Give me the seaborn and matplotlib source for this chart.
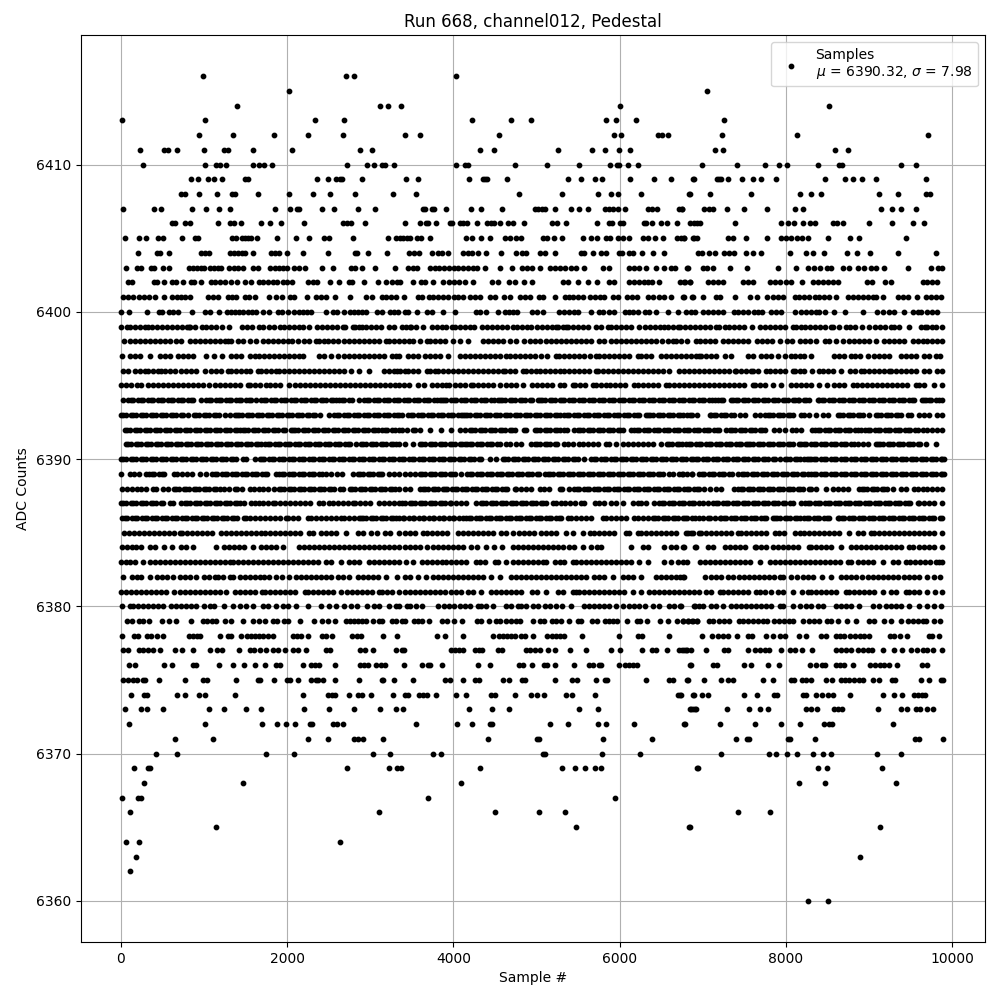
import pandas as pd
import matplotlib
matplotlib.use("Agg")
import matplotlib.pyplot as plt
import seaborn as sns

# sample numbers, one list per ADC level
r6416 = [987, 2710, 2806, 4035]
r6415 = [2025, 7053]
r6414 = [1397, 3116, 3212, 3369, 6001, 8520]
r6413 = [15, 1010, 2337, 2686, 4225, 4693, 4933, 5833, 5953, 6193, 7258]
r6412 = [942, 1351, 1844, 2253, 2674, 3421, 3601, 4549, 5929, 6017, 6460, 6505, 6577, 7234, 8133, 9712]
r6411 = [232, 521, 569, 677, 1002, 1243, 1291, 1591, 2061, 2879, 3023, 4323, 4492, 5262, 5671, 5827, 5995, 6128, 7150, 7246, 8594, 8750]
r6410 = [268, 1013, 1146, 1194, 1267, 1591, 1663, 1724, 1820, 2722, 2962, 3047, 3143, 3180, 3288, 4035, 4141, 4177, 4741, 5125, 5509, 5881, 5965, 5989, 6097, 6217, 6993, 7413, 7749, 7917, 8013, 8385, 8637, 8673, 9381, 9561]
r6409 = [846, 930, 1050, 1122, 1218, 1495, 1531, 2362, 2494, 2590, 2638, 2662, 2903, 3433, 3577, 4189, 4357, 4381, 4405, 4645, 5377, 5533, 5701, 5785, 6121, 6409, 6613, 6889, 6897, 7173, 7197, 7221, 7305, 7473, 7605, 7701, 7881, 8469, 8709, 8805, 8913, 9081, 9693]
r6408 = [728, 768, 942, 1158, 1340, 1375, 1652, 2025, 2314, 2518, 2820, 3277, 3553, 4789, 5305, 5737, 5893, 5977, 6253, 6841, 6849, 7089, 7581, 8173, 8305, 8425, 9117, 9345, 9688, 9736]
r6407 = [27, 401, 485, 858, 1026, 1183, 1315, 1856, 2037, 2121, 2145, 2422, 2566, 2855, 3059, 3637, 3661, 3745, 3769, 3913, 4213, 4333, 4585, 4981, 5017, 5065, 5101, 5221, 5413, 5509, 5617, 5821, 5869, 5917, 5977, 6061, 6337, 6385, 6445, 6709, 6745, 6753, 7017, 7077, 7125, 7293, 7497, 7773, 8109, 8205, 9141, 9273, 9381, 9561]
r6406 = [617, 653, 773, 834, 1170, 1315, 1363, 1447, 1688, 1796, 1929, 2205, 2674, 2722, 2770, 2939, 3421, 3601, 3673, 3697, 3793, 3961, 3985, 4081, 4117, 4165, 4285, 4405, 4453, 4489, 4561, 4657, 4717, 4849, 5185, 5245, 5353, 5725, 5869, 5905, 6001, 6037, 6289, 6313, 6385, 6493, 6565, 6685, 6853, 6901, 6933, 6969, 7389, 7941, 8025, 8097, 8205, 8289, 8349, 8565, 8613, 8685, 8997, 9273, 9525, 9657]
r6405 = [51, 219, 303, 447, 507, 735, 893, 929, 1339, 1387, 1459, 1495, 1531, 1567, 1635, 1875, 2103, 2259, 2439, 2499, 2787, 3219, 3315, 3357, 3397, 3437, 3477, 3565, 3605, 3721, 4153, 4225, 4333, 4441, 4621, 4681, 4753, 4813, 5077, 5125, 5209, 5305, 5557, 5653, 5725, 5833, 5881, 5977, 6037, 6109, 6277, 6337, 6421, 6517, 6685, 6737, 6781, 6901, 6937, 6773, 6885, 7305, 7365, 7521, 7773, 7941, 8005, 8061, 8133, 8193, 8265, 8505, 8769, 8877, 9441]
r6404 = [207, 435, 475, 579, 963, 1011, 1059, 1311, 1359, 1407, 1455, 1491, 1587, 1803, 1851, 1907, 1995, 2187, 2487, 2811, 2835, 2967, 3207, 3469, 3529, 3589, 3745, 3817, 3865, 3937, 4117, 4177, 4225, 4297, 4393, 4573, 4753, 4825, 4873, 5041, 5101, 5221, 5533, 5569, 5677, 5773, 5833, 5989, 6025, 6109, 6157, 6265, 6397, 6529, 6949, 6993, 7077, 7149, 7257, 7317, 7377, 7521, 7605, 7701, 8049, 8241, 8325, 8457, 8733, 8853, 9009, 9345, 9813]
r6403 = [63, 195, 235, 363, 403, 507, 579, 819, 867, 915, 963, 999, 1071, 1119, 1167, 1203, 1299, 1359, 1407, 1467, 1587, 1647, 1791, 1851, 1899, 1947, 1995, 2079, 2139, 2211, 2415, 2547, 2763, 2811, 2895, 3051, 3303, 3457, 3517, 3565, 3721, 3781, 3829, 3889, 3949, 4009, 4057, 4117, 4177, 4237, 4285, 4381, 4561, 4705, 4825, 4885, 4945, 5037, 5161, 5221, 5281, 5341, 5413, 5473, 5569, 5797, 5869, 6109, 6169, 6229, 6313, 6433, 6529, 6613, 6661, 6817, 6825, 7005, 7053, 7125, 7333, 7533, 7905, 8121, 8265, 8345, 8409, 8493, 8541, 8685, 8765, 8865, 8937, 9021, 9081, 9177, 9465, 9753, 9837, 9885]
r6402 = [87, 127, 399, 435, 519, 615, 663, 747, 843, 879, 963, 1083, 1131, 1191, 1251, 1323, 1395, 1491, 1563, 1659, 1707, 1767, 1827, 1875, 1947, 1995, 2055, 2247, 2307, 2355, 2511, 2619, 2739, 2775, 2919, 3087, 3187, 3267, 3327, 3357, 3517, 3613, 3661, 3757, 3877, 3949, 4009, 4069, 4141, 4237, 4465, 4537, 4669, 4741, 4849, 4945, 5317, 5377, 5497, 5617, 5725, 5869, 5929, 6109, 6169, 6229, 6289, 6337, 6385, 6469, 6781, 6853, 6725, 6785, 6845, 7065, 7125, 7185, 7245, 7485, 7545, 7605, 7813, 7873, 7933, 8005, 8065, 8193, 8325, 8385, 8445, 8505, 8565, 8625, 8973, 9033, 9193, 9265, 9645, 9705, 9765, 9825]
r6401 = [27, 87, 147, 219, 279, 339, 411, 519, 615, 675, 723, 771, 831, 1047, 1107, 1167, 1287, 1335, 1383, 1491, 1539, 1611, 1779, 1863, 1935, 2031, 2079, 2235, 2343, 2403, 2463, 2571, 2751, 2943, 3015, 3135, 3195, 3255, 3315, 3409, 3577, 3625, 3709, 3757, 3817, 3877, 3937, 4009, 4057, 4117, 4201, 4261, 4321, 4441, 4501, 4609, 4681, 4801, 4861, 4921, 5029, 5077, 5221, 5341, 5389, 5437, 5497, 5557, 5641, 5701, 5761, 5809, 5917, 5977, 6085, 6145, 6205, 6337, 6397, 6469, 6529, 6613, 6769, 6877, 6765, 6885, 7005, 7165, 7205, 7385, 7565, 7653, 7773, 7845, 7905, 7965, 8105, 8157, 8225, 8285, 8357, 8405, 8465, 8525, 8605, 8745, 8805, 8865, 8925, 8985, 9045, 9085, 9165, 9345, 9405, 9465, 9573, 9685, 9745, 9805, 9865]
r6400 = [3, 99, 315, 459, 495, 579, 627, 687, 855, 1011, 1071, 1179, 1275, 1323, 1371, 1419, 1467, 1527, 1575, 1623, 1707, 1779, 1887, 1935, 2007, 2079, 2139, 2187, 2235, 2283, 2463, 2547, 2595, 2679, 2751, 2799, 2847, 2895, 2943, 3075, 3147, 3243, 3291, 3339, 3417, 3457, 3565, 3685, 3745, 3877, 4021, 4273, 4321, 4393, 4537, 4621, 4669, 4717, 4765, 4945, 5005, 5077, 5269, 5329, 5389, 5449, 5497, 5653, 5749, 5797, 5869, 5929, 6061, 6109, 6157, 6217, 6301, 6349, 6437, 6577, 6697, 6805, 6865, 6913, 7005, 7065, 7125, 7185, 7245, 7377, 7425, 7485, 7545, 7613, 7665, 7717, 7825, 7885, 7945, 8105, 8185, 8245, 8305, 8365, 8405, 8477, 8577, 8713, 8925, 9093, 9165, 9237, 9297, 9417, 9525, 9585, 9625, 9705, 9765, 9825]
r6399 = [5, 67, 107, 167, 227, 287, 327, 379, 439, 499, 559, 619, 679, 739, 799, 819, 835, 895, 979, 1019, 1079, 1139, 1219, 1299, 1459, 1519, 1579, 1659, 1707, 1779, 1839, 1915, 1967, 2027, 2087, 2147, 2195, 2259, 2355, 2415, 2475, 2535, 2595, 2667, 2700, 2787, 2819, 2867, 2899, 2947, 3007, 3067, 3127, 3227, 3287, 3377, 3429, 3477, 3489, 3549, 3637, 3737, 3797, 3857, 3917, 3989, 4017, 4077, 4137, 4197, 4245, 4349, 4409, 4469, 4529, 4589, 4649, 4717, 4765, 4825, 4885, 4937, 5005, 5065, 5125, 5185, 5237, 5261, 5321, 5357, 5377, 5437, 5497, 5557, 5617, 5717, 5777, 5857, 5897, 5957, 6017, 6077, 6137, 6229, 6309, 6365, 6425, 6485, 6537, 6577, 6637, 6697, 6725, 6785, 6845, 6905, 6965, 7025, 7085, 7165, 7197, 7265, 7317, 7377, 7437, 7497, 7597, 7685, 7745, 7805, 7865, 7925, 7985, 8085, 8117, 8177, 8237, 8297, 8357, 8417, 8477, 8545, 8573, 8645, 8725, 8773, 8833, 8917, 9005, 9077, 9137, 9197, 9265, 9305, 9365, 9477, 9625, 9677, 9705, 9765, 9813, 9885]
r6398 = [35, 107, 167, 227, 287, 347, 407, 467, 527, 587, 659, 727, 827, 887, 947, 1007, 1067, 1127, 1187, 1247, 1287, 1323, 1407, 1467, 1547, 1627, 1715, 1767, 1827, 1887, 1947, 2007, 2059, 2127, 2207, 2267, 2347, 2387, 2447, 2487, 2547, 2607, 2687, 2739, 2807, 2859, 2919, 2979, 3039, 3099, 3187, 3227, 3287, 3347, 3407, 3467, 3517, 3597, 3677, 3717, 3777, 3837, 3897, 3997, 4077, 4177, 4357, 4417, 4477, 4537, 4597, 4677, 4749, 4845, 4917, 4977, 5037, 5109, 5177, 5237, 5297, 5357, 5417, 5477, 5537, 5597, 5657, 5757, 5817, 5897, 5957, 6017, 6077, 6137, 6197, 6257, 6317, 6377, 6437, 6505, 6577, 6637, 6677, 6737, 6817, 6917, 6965, 7025, 7085, 7145, 7245, 7305, 7365, 7425, 7485, 7545, 7653, 7717, 7777, 7837, 7933, 8013, 8073, 8173, 8237, 8293, 8365, 8469, 8525, 8605, 8685, 8765, 8825, 8885, 8945, 9005, 9085, 9185, 9245, 9305, 9365, 9425, 9525, 9585, 9645, 9705, 9765, 9825, 9885]
r6397 = [15, 107, 167, 227, 351, 467, 527, 587, 687, 747, 807, 867, 1023, 1119, 1215, 1327, 1387, 1447, 1547, 1607, 1659, 1719, 1779, 1839, 1899, 1959, 2019, 2079, 2139, 2187, 2387, 2447, 2527, 2607, 2687, 2747, 2807, 2867, 2927, 2987, 3047, 3107, 3167, 3267, 3307, 3347, 3457, 3517, 3577, 3657, 3717, 3777, 3837, 3937, 4077, 4137, 4197, 4257, 4317, 4377, 4437, 4497, 4557, 4629, 4677, 4737, 4797, 4857, 4917, 4977, 5057, 5125, 5229, 5269, 5329, 5389, 5449, 5509, 5577, 5645, 5717, 5757, 5817, 5877, 5937, 5997, 6057, 6117, 6217, 6257, 6317, 6377, 6497, 6557, 6617, 6677, 6737, 6797, 6857, 6917, 6957, 6985, 7045, 7105, 7165, 7265, 7345, 7545, 7605, 7705, 7765, 7825, 7905, 7985, 8065, 8105, 8165, 8225, 8305, 8585, 8645, 8705, 8785, 8837, 8897, 8985, 9065, 9125, 9185, 9245, 9385, 9445, 9505, 9565, 9665, 9725, 9805, 9853]
r6396 = [27, 87, 167, 227, 287, 327, 387, 447, 487, 527, 587, 647, 727, 787, 847, 907, 1007, 1087, 1147, 1207, 1287, 1327, 1387, 1447, 1507, 1547, 1647, 1687, 1747, 1807, 1867, 1907, 1967, 2027, 2087, 2147, 2207, 2267, 2327, 2387, 2447, 2507, 2567, 2627, 2687, 2767, 2867, 2987, 3167, 3227, 3287, 3327, 3357, 3417, 3457, 3517, 3577, 3677, 3717, 3777, 3817, 3877, 3937, 3997, 4057, 4117, 4177, 4237, 4297, 4357, 4417, 4477, 4537, 4597, 4617, 4677, 4737, 4837, 4877, 4937, 4997, 5037, 5097, 5157, 5217, 5277, 5337, 5397, 5457, 5517, 5577, 5637, 5717, 5737, 5805, 5857, 5917, 5977, 6037, 6097, 6157, 6217, 6277, 6337, 6397, 6457, 6517, 6597, 6717, 6777, 6837, 6897, 6957, 7017, 7077, 7137, 7197, 7257, 7317, 7385, 7405, 7465, 7525, 7585, 7605, 7665, 7765, 7805, 7865, 7925, 7985, 8085, 8105, 8165, 8225, 8313, 8397, 8445, 8505, 8565, 8665, 8773, 8833, 8905, 8945, 9005, 9065, 9125, 9185, 9245, 9265, 9325, 9385, 9445, 9505, 9565, 9665, 9725, 9825, 9885]
r6395 = [5, 65, 125, 195, 243, 327, 387, 447, 507, 567, 627, 687, 747, 807, 867, 927, 987, 1059, 1127, 1187, 1247, 1307, 1367, 1427, 1527, 1555, 1615, 1675, 1747, 1795, 1855, 1915, 2027, 2099, 2159, 2219, 2279, 2339, 2399, 2459, 2519, 2579, 2639, 2699, 2759, 2819, 2879, 2939, 2999, 3059, 3119, 3179, 3239, 3299, 3347, 3407, 3467, 3577, 3645, 3737, 3797, 3857, 3917, 3949, 4017, 4077, 4137, 4217, 4237, 4297, 4357, 4417, 4477, 4557, 4629, 4689, 4749, 4837, 4949, 5009, 5069, 5129, 5189, 5277, 5337, 5437, 5469, 5529, 5589, 5677, 5717, 5777, 5837, 5885, 5945, 6005, 6065, 6177, 6217, 6277, 6337, 6397, 6457, 6557, 6597, 6657, 6717, 6777, 6837, 6897, 6957, 7017, 7077, 7137, 7197, 7257, 7317, 7377, 7437, 7497, 7605, 7625, 7685, 7745, 7845, 7945, 8065, 8125, 8185, 8245, 8305, 8405, 8493, 8585, 8645, 8705, 8805, 8853, 8913, 8973, 9033, 9093, 9153, 9213, 9273, 9333, 9393, 9453, 9565, 9605, 9665, 9785, 9885]
r6394 = [19, 87, 147, 207, 267, 327, 387, 447, 507, 567, 627, 687, 747, 807, 867, 967, 1027, 1087, 1147, 1207, 1267, 1327, 1387, 1447, 1507, 1567, 1627, 1687, 1747, 1807, 1867, 1927, 1987, 2047, 2107, 2167, 2227, 2287, 2347, 2407, 2467, 2527, 2587, 2627, 2687, 2747, 2867, 2927, 2987, 3047, 3107, 3167, 3227, 3287, 3347, 3407, 3467, 3527, 3587, 3647, 3707, 3767, 3837, 3857, 3917, 3977, 4037, 4097, 4157, 4217, 4277, 4337, 4397, 4457, 4537, 4557, 4617, 4677, 4737, 4797, 4857, 4917, 5017, 5037, 5097, 5157, 5217, 5277, 5337, 5397, 5457, 5517, 5577, 5637, 5697, 5757, 5817, 5877, 5937, 5997, 6057, 6117, 6177, 6237, 6297, 6357, 6417, 6477, 6537, 6597, 6657, 6717, 6777, 6837, 6897, 6957, 7017, 7077, 7145, 7185, 7245, 7345, 7365, 7425, 7485, 7545, 7605, 7665, 7725, 7785, 7845, 7905, 7965, 8025, 8085, 8145, 8157, 8217, 8277, 8385, 8405, 8465, 8525, 8585, 8645, 8705, 8765, 8825, 8885, 8945, 9005, 9065, 9125, 9185, 9245, 9305, 9365, 9425, 9485, 9545, 9665, 9693, 9753, 9813, 9885,
         117, 237, 357, 477, 597, 717, 837, 1057, 1177, 1297, 1417, 1537, 1717, 1837, 1957, 2077, 2197, 2317, 2437, 2557, 2657, 2777, 2957, 3077, 3197, 3317, 3437, 3557, 3677, 3797, 3887, 4007, 4127, 4247, 4367, 4487, 4587, 4707, 4827, 4947, 5067, 5187, 5307, 5427, 5547, 5667, 5787, 5907, 6027, 6147, 6267, 6387, 6507, 6627, 6747, 6867, 6987, 7107, 7215, 7395, 7515, 7635, 7755, 7875, 7995, 8115, 8247, 8435, 8555, 8675, 8795, 8915, 9035, 9155, 9275, 9395, 9515, 9635, 9723, 9843]
r6393 = [0, 60, 120, 180, 240, 300, 360, 420, 480, 540, 600, 660, 720, 807, 875, 935, 995, 1055, 1115, 1175, 1247, 1307, 1367, 1395, 1455, 1515, 1575, 1635, 1695, 1755, 1815, 1875, 1935, 1995, 2055, 2115, 2175, 2235, 2307, 2339, 2399, 2507, 2567, 2627, 2687, 2747, 2807, 2867, 2927, 2987, 3047, 3107, 3167, 3227, 3287, 3347, 3377, 3457, 3517, 3577, 3637, 3697, 3757, 3817, 3877, 3937, 3997, 4057, 4117, 4137, 4197, 4257, 4317, 4377, 4437, 4497, 4557, 4617, 4677, 4737, 4797, 4857, 4917, 4977, 5037, 5097, 5157, 5217, 5277, 5337, 5397, 5457, 5517, 5577, 5637, 5697, 5757, 5817, 5877, 5937, 5997, 6057, 6117, 6177, 6237, 6317, 6337, 6397, 6457, 6517, 6577, 6637, 6697, 6757, 6817, 6877, 6937, 7085, 7105, 7165, 7225, 7285, 7345, 7445, 7513, 7625, 7685, 7745, 7785, 7845, 7905, 7965, 8025, 8085, 8185, 8225, 8285, 8365, 8445, 8505, 8625, 8685, 8745, 8805, 8865, 8925, 9005, 9085, 9145, 9205, 9265, 9325, 9385, 9505, 9605, 9665, 9725, 9825, 9885,
         30, 150, 270, 390, 510, 630, 750, 905, 1025, 1145, 1425, 1545, 1665, 1785, 1905, 2025, 2145, 2265, 2597, 2717, 2837, 2957, 3077, 3197, 3317, 3487, 3607, 3727, 3847, 3967, 4087, 4167, 4287, 4407, 4527, 4647, 4767, 4887, 5007, 5127, 5247, 5367, 5487, 5607, 5727, 5847, 5967, 6087, 6207, 6367, 6487, 6607, 6727, 6847, 7135, 7255, 7375, 7815, 7935, 8055, 8655, 8775, 8895, 9115, 9235, 9355, 9475]
r6392 = [47, 107, 167, 227, 287, 347, 407, 467, 527, 587, 647, 707, 767, 827, 887, 947, 1007, 1067, 1127, 1187, 1247, 1307, 1367, 1427, 1467, 1527, 1587, 1647, 1707, 1767, 1827, 1887, 1947, 2047, 2067, 2127, 2187, 2247, 2307, 2367, 2427, 2487, 2547, 2607, 2667, 2727, 2787, 2847, 2907, 2967, 3027, 3087, 3147, 3207, 3267, 3347, 3377, 3437, 3517, 3537, 3597, 3717, 3845, 3977, 4077, 4137, 4197, 4257, 4317, 4377, 4437, 4497, 4557, 4617, 4677, 4737, 4845, 4877, 4977, 5037, 5097, 5157, 5217, 5277, 5337, 5457, 5497, 5557, 5617, 5677, 5737, 5797, 5857, 5917, 5977, 6037, 6137, 6177, 6237, 6297, 6357, 6417, 6477, 6537, 6597, 6657, 6717, 6777, 6837, 6897, 6957, 7017, 7077, 7137, 7197, 7285, 7325, 7385, 7445, 7505, 7565, 7625, 7685, 7745, 7853, 7917, 7985, 8077, 8125, 8185, 8317, 8357, 8417, 8477, 8537, 8597, 8657, 8717, 8777, 8837, 8905, 8957, 9017, 9077, 9137, 9197, 9257, 9317, 9377, 9437, 9497, 9557, 9645, 9705, 9765, 9825, 9885,
         77, 197, 317, 437, 557, 677, 797, 917, 1037, 1157, 1277, 1397, 1497, 1617, 1737, 1857, 1977, 2097, 2217, 2337, 2457, 2577, 2697, 2817, 2937, 3057, 3177, 3297, 4227, 4347, 4467, 4587, 4707, 5007, 5127, 5247, 5367, 5527, 5647, 5767, 5887, 6007, 6207, 6327, 6447, 6567, 6687, 6807, 6927, 7047, 7167, 7355, 7475, 7595, 7715, 8387, 8507, 8627, 8747, 8867, 8987, 9107, 9227, 9347, 9467, 9587]
r6391 = [59, 119, 179, 239, 299, 359, 419, 479, 539, 599, 659, 719, 779, 839, 899, 959, 1019, 1079, 1139, 1199, 1259, 1319, 1379, 1439, 1499, 1559, 1619, 1679, 1739, 1799, 1859, 1919, 1979, 2039, 2099, 2159, 2219, 2279, 2339, 2399, 2459, 2519, 2579, 2639, 2699, 2759, 2827, 2887, 2947, 3007, 3067, 3127, 3187, 3247, 3307, 3347, 3417, 3517, 3597, 3657, 3717, 3777, 3837, 3897, 3957, 4017, 4077, 4137, 4165, 4225, 4285, 4345, 4405, 4465, 4525, 4637, 4685, 4749, 4809, 4937, 4977, 5037, 5097, 5157, 5217, 5337, 5377, 5437, 5517, 5557, 5617, 5677, 5737, 5837, 5869, 5957, 6037, 6097, 6157, 6217, 6277, 6337, 6397, 6497, 6565, 6625, 6685, 6745, 6805, 6865, 6925, 6985, 7045, 7105, 7165, 7225, 7285, 7345, 7405, 7465, 7525, 7545, 7605, 7665, 7725, 7785, 7845, 7905, 7965, 8025, 8085, 8157, 8185, 8245, 8305, 8365, 8425, 8485, 8545, 8605, 8665, 8725, 8785, 8865, 8925, 8985, 9085, 9105, 9165, 9225, 9285, 9345, 9405, 9465, 9525, 9585, 9685, 9805,
         89, 209, 329, 449, 569, 689, 809, 929, 1049, 1169, 1289, 1409, 1529, 1649, 1769, 1889, 2009, 2129, 2249, 2369, 2489, 2609, 2729, 2917, 3037, 3157, 3277, 3627, 3747, 3867, 3987, 4107, 4195, 4315, 4435, 4555, 5007, 5127, 5247, 6595, 6715, 6835, 6955, 7075, 7195, 7315, 7435, 7575, 7695, 7815, 7935, 8055, 8215, 8335, 8455, 8575, 8695, 8815, 9135, 9255, 9375, 9495, 9615]
r6390 = [0, 60, 120, 180, 240, 300, 360, 420, 480, 540, 600, 660, 720, 780, 840, 900, 960, 1020, 1080, 1140, 1200, 1260, 1320, 1380, 1467, 1507, 1607, 1667, 1727, 1787, 1847, 1907, 1967, 2027, 2087, 2147, 2207, 2267, 2327, 2387, 2447, 2507, 2567, 2627, 2687, 2747, 2807, 2867, 2927, 2987, 3047, 3107, 3167, 3227, 3287, 3347, 3407, 3467, 3527, 3587, 3647, 3707, 3767, 3827, 3887, 3947, 4007, 4067, 4127, 4187, 4247, 4307, 4437, 4517, 4597, 4657, 4717, 4777, 4837, 4897, 4957, 5017, 5077, 5137, 5197, 5257, 5317, 5377, 5437, 5497, 5577, 5657, 5717, 5777, 5837, 5897, 5957, 6017, 6077, 6137, 6197, 6257, 6317, 6377, 6437, 6497, 6557, 6617, 6677, 6737, 6797, 6865, 6885, 6945, 7005, 7065, 7125, 7185, 7245, 7305, 7365, 7425, 7485, 7545, 7605, 7665, 7725, 7785, 7845, 7925, 7985, 8045, 8105, 8165, 8225, 8285, 8305, 8365, 8425, 8485, 8545, 8605, 8665, 8725, 8785, 8845, 8905, 8965, 9025, 9085, 9145, 9205, 9265, 9325, 9385, 9445, 9505, 9565, 9625, 9685, 9745, 9805, 9865, 9905,
         30, 150, 270, 390, 510, 630, 750, 870, 990, 1110, 1230, 1350, 1697, 1817, 1937, 2057, 2177, 2297, 2417, 2537, 2657, 2777, 2897, 3017, 3137, 3257, 3377, 3497, 3617, 3737, 3857, 3977, 4097, 4217, 4337, 4627, 4747, 4867, 4987, 5107, 5227, 5347, 5467, 5687, 5807, 5927, 6047, 6167, 6287, 6407, 6527, 6647, 6767, 6915, 7035, 7155, 7275, 7395, 7515, 7635, 7755, 7875, 8015, 8135, 8255, 8335, 8455, 8575, 8695, 8815, 8935, 9055, 9175, 9295, 9415, 9535, 9655, 9775, 9885]
r6389 = [0, 107, 155, 215, 307, 339, 399, 459, 519, 635, 675, 735, 795, 855, 947, 1027, 1099, 1159, 1219, 1279, 1339, 1399, 1459, 1519, 1579, 1639, 1699, 1759, 1867, 1907, 1967, 2027, 2087, 2147, 2207, 2267, 2327, 2387, 2467, 2527, 2595, 2655, 2787, 2847, 2907, 2967, 3027, 3087, 3147, 3227, 3287, 3347, 3417, 3477, 3537, 3597, 3657, 3717, 3777, 3837, 3897, 3957, 4017, 4097, 4165, 4225, 4285, 4345, 4405, 4465, 4525, 4585, 4645, 4705, 4765, 4825, 4885, 4945, 5005, 5097, 5137, 5197, 5257, 5317, 5377, 5437, 5497, 5557, 5617, 5677, 5737, 5797, 5857, 5917, 5977, 6037, 6097, 6157, 6217, 6277, 6337, 6397, 6457, 6517, 6597, 6637, 6717, 6757, 6817, 6877, 6957, 7017, 7077, 7137, 7197, 7257, 7317, 7425, 7473, 7533, 7593, 7653, 7713, 7773, 7833, 7893, 7953, 8013, 8073, 8133, 8193, 8265, 8305, 8365, 8425, 8485, 8545, 8605, 8665, 8725, 8785, 8845, 8905, 8965, 9025, 9085, 9145, 9205, 9265, 9325, 9385, 9445, 9505, 9565, 9625, 9685, 9745, 9805, 9865, 9905,
         369, 489, 1129, 1249, 1369, 1489, 1609, 1729, 1937, 2057, 2177, 2297, 2417, 2877, 2997, 3117, 3627, 3747, 3867, 3987, 4195, 4315, 4435, 4555, 4675, 4795, 4915, 5035, 5167, 5287, 5407, 5527, 5647, 5767, 5887, 6007, 6127, 6247, 6367, 6487, 6755, 6875, 6995, 7115, 7235, 7355, 7503, 7623, 7743, 7863, 7983, 8103, 8223, 8335, 8455, 8575, 8695, 8815, 8935, 9055, 9175, 9295, 9415, 9535, 9655, 9775, 9885]
r6388 = [7, 67, 127, 187, 247, 307, 387, 427, 507, 567, 635, 695, 755, 815, 875, 935, 995, 1055, 1115, 1187, 1235, 1295, 1367, 1395, 1455, 1547, 1595, 1655, 1715, 1775, 1847, 1899, 1959, 2019, 2079, 2139, 2199, 2259, 2319, 2379, 2439, 2499, 2559, 2667, 2755, 2815, 2875, 2935, 2995, 3055, 3115, 3175, 3235, 3295, 3347, 3417, 3477, 3597, 3629, 3689, 3749, 3809, 3869, 3929, 3989, 4049, 4109, 4169, 4229, 4289, 4349, 4409, 4469, 4529, 4589, 4649, 4737, 4757, 4817, 4877, 4937, 5037, 5085, 5145, 5277, 5305, 5397, 5457, 5517, 5577, 5637, 5697, 5757, 5817, 5877, 5937, 5997, 6057, 6117, 6177, 6237, 6297, 6357, 6417, 6477, 6537, 6597, 6657, 6717, 6777, 6837, 6897, 6957, 7017, 7085, 7157, 7217, 7373, 7425, 7485, 7545, 7605, 7665, 7725, 7785, 7845, 7905, 7965, 8025, 8085, 8145, 8205, 8285, 8309, 8369, 8485, 8565, 8625, 8685, 8745, 8885, 8917, 8977, 9037, 9097, 9157, 9217, 9285, 9385, 9445, 9545, 9585, 9645, 9705, 9765, 9825, 9885,
         665, 785, 905, 1025, 1145, 1929, 2049, 2169, 2289, 2409, 2529, 2637, 2785, 2905, 3025, 3145, 3265, 3659, 3779, 3899, 4019, 4139, 4259, 4379, 4499, 4619, 5487, 5607, 5727, 5847, 5967, 6087, 6207, 6327, 6447, 6567, 6687, 6807, 6927, 7455, 7575, 7695, 7815, 7935, 8055, 8175, 8947, 9067, 9187]
r6387 = [0, 60, 120, 180, 240, 300, 360, 420, 480, 587, 627, 727, 767, 827, 887, 947, 1007, 1067, 1127, 1187, 1247, 1307, 1367, 1427, 1475, 1567, 1607, 1659, 1707, 1767, 1827, 1859, 1919, 1979, 2039, 2099, 2159, 2219, 2279, 2387, 2427, 2507, 2547, 2607, 2667, 2727, 2795, 2819, 2879, 2939, 2999, 3107, 3167, 3227, 3287, 3347, 3417, 3477, 3537, 3597, 3657, 3717, 3777, 3837, 3897, 3957, 3977, 4037, 4097, 4157, 4269, 4329, 4389, 4449, 4509, 4569, 4629, 4689, 4749, 4809, 4869, 4929, 4989, 5049, 5109, 5197, 5229, 5289, 5349, 5409, 5469, 5537, 5577, 5709, 5757, 5817, 5897, 5957, 6045, 6157, 6217, 6257, 6317, 6417, 6477, 6537, 6597, 6657, 6717, 6777, 6837, 6897, 6957, 7005, 7065, 7125, 7185, 7245, 7305, 7365, 7425, 7485, 7545, 7605, 7665, 7725, 7785, 7845, 7905, 7965, 8045, 8085, 8185, 8237, 8297, 8357, 8417, 8477, 8537, 8597, 8657, 8717, 8777, 8837, 8897, 8957, 9017, 9077, 9137, 9197, 9257, 9317, 9377, 9437, 9497, 9605, 9665, 9725, 9785, 9885,
         30, 150, 270, 390, 510, 797, 917, 1037, 1157, 1277, 1397, 3387, 3507, 3627, 3747, 3867, 4359, 4479, 4599, 4719, 4839, 4959, 5079, 6507, 6627, 6747, 6867, 7155, 7275, 7395, 7515, 7635, 7755, 7875, 7995, 8267, 8387, 8507, 8627, 8747, 8867, 8987, 9107, 9227, 9347, 9467, 9587]
r6386 = [15, 75, 135, 195, 255, 315, 375, 435, 495, 555, 615, 675, 735, 795, 855, 915, 975, 1035, 1095, 1155, 1215, 1275, 1335, 1395, 1507, 1555, 1615, 1675, 1735, 1795, 1855, 1915, 1987, 2007, 2067, 2127, 2247, 2287, 2347, 2407, 2467, 2527, 2587, 2647, 2687, 2747, 2807, 2867, 2887, 2947, 3007, 3067, 3127, 3187, 3247, 3307, 3347, 3407, 3467, 3527, 3587, 3647, 3707, 3767, 3827, 3887, 3947, 4007, 4067, 4117, 4157, 4217, 4277, 4337, 4397, 4457, 4517, 4577, 4637, 4697, 4757, 4817, 4877, 4937, 4997, 5057, 5117, 5177, 5237, 5297, 5377, 5417, 5477, 5537, 5597, 5657, 5797, 5837, 5897, 5957, 6017, 6077, 6177, 6217, 6277, 6337, 6397, 6457, 6517, 6577, 6637, 6697, 6757, 6817, 6877, 6957, 7005, 7065, 7085, 7145, 7205, 7225, 7285, 7345, 7405, 7465, 7525, 7585, 7645, 7705, 7765, 7845, 7865, 7925, 7985, 8045, 8105, 8165, 8225, 8285, 8345, 8405, 8465, 8525, 8625, 8645, 8705, 8765, 8825, 8885, 8945, 9005, 9065, 9125, 9185, 9245, 9305, 9365, 9425, 9485, 9545, 9605, 9665, 9725, 9785, 9885,
         45, 165, 285, 405, 525, 645, 765, 885, 1005, 1125, 1245, 1365, 1485, 2917, 3037, 3157, 3277, 3397, 3517, 3637, 3757, 3877, 3997, 4187, 4307, 4427, 4547, 4667, 4787, 4907, 5027, 5147, 5267, 6427, 6547, 6667, 6787, 6907, 7255, 7375, 7495, 7615, 7735, 7895, 8015, 8135, 8255, 8375, 8495, 8675, 8795, 8915, 9035, 9155, 9275, 9395, 9515, 9635, 9755, 9855]
r6385 = [35, 95, 155, 215, 275, 335, 395, 455, 515, 575, 635, 707, 739, 799, 859, 919, 979, 1039, 1099, 1207, 1259, 1319, 1379, 1439, 1499, 1559, 1619, 1679, 1739, 1799, 1859, 1919, 1979, 2039, 2099, 2159, 2259, 2315, 2407, 2467, 2527, 2587, 2707, 2847, 2907, 3007, 3075, 3179, 3239, 3347, 3417, 3477, 3537, 3637, 3685, 3745, 3805, 3865, 3925, 4057, 4117, 4177, 4237, 4297, 4357, 4417, 4477, 4577, 4629, 4717, 4789, 4845, 4909, 4969, 5057, 5109, 5169, 5229, 5357, 5437, 5557, 5645, 5697, 5757, 5817, 5877, 5937, 6077, 6117, 6217, 6257, 6317, 6377, 6437, 6497, 6557, 6617, 6677, 6797, 6857, 6957, 6825, 6885, 6985, 7045, 7105, 7165, 7225, 7285, 7345, 7425, 7465, 7525, 7585, 7645, 7705, 7765, 7865, 7917, 7973, 8105, 8165, 8225, 8285, 8345, 8405, 8465, 8525, 8585, 8645, 8765, 8865, 8925, 9025, 9065, 9125, 9185, 9245, 9305, 9365, 9425, 9485, 9545, 9605, 9665, 9725, 9785, 9885]
r6384 = [7, 67, 127, 179, 243, 355, 415, 515, 611, 719, 779, 867, 1147, 1235, 1295, 1355, 1415, 1475, 1587, 1683, 1747, 1807, 1867, 1947, 2147, 2207, 2267, 2327, 2387, 2447, 2507, 2567, 2627, 2687, 2747, 2807, 2867, 2927, 2987, 3047, 3107, 3167, 3227, 3287, 3347, 3417, 3477, 3537, 3597, 3677, 3757, 3817, 3877, 3937, 3997, 4057, 4117, 4217, 4285, 4397, 4489, 4589, 4717, 4777, 4837, 4897, 4957, 5017, 5077, 5137, 5197, 5257, 5317, 5397, 5457, 5557, 5657, 5725, 5777, 6137, 6277, 6337, 6529, 6617, 6677, 6777, 6909, 6765, 6925, 7065, 7125, 7265, 7325, 7385, 7445, 7505, 7625, 7645, 7705, 7765, 7845, 7905, 7965, 8025, 8085, 8145, 8285, 8305, 8365, 8425, 8485, 8545, 8665, 8785, 8845, 8905, 8965, 9025, 9085, 9145, 9205, 9265, 9325, 9385, 9485, 9525, 9605, 9665, 9725, 9785, 9885]
r6383 = [0, 59, 107, 167, 267, 347, 407, 467, 527, 587, 647, 707, 767, 827, 887, 947, 1007, 1067, 1127, 1187, 1247, 1307, 1347, 1407, 1467, 1527, 1587, 1647, 1707, 1767, 1827, 1887, 1947, 2007, 2067, 2127, 2187, 2247, 2307, 2367, 2467, 2527, 2647, 2747, 2807, 2867, 2987, 3047, 3107, 3167, 3227, 3287, 3347, 3429, 3517, 3617, 3677, 3737, 3797, 3857, 3917, 3977, 4037, 4097, 4157, 4277, 4317, 4377, 4497, 4537, 4637, 4717, 4777, 4837, 4897, 4957, 5017, 5077, 5117, 5217, 5277, 5337, 5437, 5477, 5537, 5597, 5657, 5717, 5777, 5837, 5897, 5957, 6017, 6077, 6137, 6237, 6337, 6537, 6617, 6697, 6757, 6817, 6973, 7033, 7093, 7153, 7213, 7273, 7333, 7393, 7453, 7513, 7573, 7685, 7813, 7873, 7933, 7993, 8053, 8113, 8173, 8233, 8293, 8353, 8413, 8473, 8533, 8593, 8653, 8745, 8785, 8865, 8925, 8985, 9045, 9165, 9285, 9345, 9445, 9493, 9553, 9613, 9673, 9733, 9805, 9845, 9885]
r6382 = [27, 127, 187, 247, 347, 435, 495, 555, 627, 707, 767, 827, 907, 995, 1055, 1127, 1167, 1227, 1307, 1347, 1427, 1487, 1547, 1607, 1667, 1727, 1787, 1867, 1935, 2027, 2107, 2167, 2227, 2287, 2347, 2407, 2467, 2527, 2607, 2667, 2747, 2847, 2907, 2967, 3027, 3087, 3187, 3327, 3417, 3477, 3577, 3669, 3757, 3817, 3877, 3937, 3997, 4057, 4117, 4177, 4237, 4297, 4357, 4457, 4557, 4697, 4757, 4817, 4877, 4937, 4997, 5057, 5117, 5177, 5237, 5297, 5357, 5417, 5477, 5537, 5597, 5697, 5757, 5817, 5917, 6045, 6105, 6165, 6257, 6437, 6497, 6557, 6617, 6677, 6757, 6725, 6773, 7025, 7105, 7165, 7225, 7305, 7365, 7437, 7497, 7557, 7617, 7677, 7737, 7797, 7857, 7925, 7965, 8065, 8133, 8205, 8265, 8325, 8437, 8545, 8665, 8725, 8785, 8845, 8917, 8985, 9045, 9105, 9165, 9225, 9285, 9345, 9425, 9485, 9545, 9605, 9705, 9785, 9853]
r6381 = [0, 60, 120, 180, 240, 300, 360, 420, 480, 540, 635, 707, 767, 827, 887, 947, 1007, 1067, 1127, 1187, 1267, 1367, 1427, 1487, 1547, 1607, 1699, 1735, 1795, 1855, 1915, 1975, 2035, 2095, 2215, 2247, 2307, 2367, 2427, 2487, 2547, 2647, 2715, 2775, 2835, 2895, 2955, 3015, 3107, 3139, 3199, 3259, 3347, 3417, 3477, 3537, 3597, 3657, 3717, 3777, 3837, 3897, 3977, 4037, 4097, 4177, 4237, 4337, 4457, 4517, 4577, 4637, 4697, 4757, 4817, 4949, 5009, 5117, 5257, 5317, 5437, 5477, 5517, 5577, 5637, 5697, 5757, 5817, 5877, 5937, 5997, 6057, 6157, 6257, 6357, 6417, 6477, 6537, 6597, 6657, 6717, 6777, 6837, 6897, 6957, 7045, 7105, 7205, 7245, 7305, 7365, 7425, 7485, 7545, 7645, 7685, 7745, 7825, 7905, 7965, 8085, 8197, 8265, 8305, 8365, 8425, 8485, 8545, 8605, 8725, 8765, 8825, 8885, 8945, 9005, 9065, 9165, 9265, 9325, 9445, 9485, 9545, 9605, 9705, 9797, 9885]
r6380 = [7, 107, 147, 207, 267, 327, 387, 447, 507, 607, 667, 727, 787, 847, 907, 999, 1067, 1119, 1239, 1347, 1427, 1507, 1587, 1707, 1767, 1867, 1947, 2007, 2107, 2255, 2407, 2507, 2587, 2687, 2767, 2835, 2959, 3047, 3107, 3227, 3307, 3347, 3437, 3477, 3549, 3625, 3817, 3889, 3949, 4009, 4077, 4137, 4197, 4297, 4337, 4397, 4477, 4637, 4697, 4777, 4817, 4877, 4957, 5017, 5101, 5157, 5229, 5305, 5413, 5577, 5637, 5697, 5757, 5817, 5877, 5957, 6037, 6117, 6177, 6237, 6309, 6397, 6477, 6597, 6657, 6737, 6897, 6957, 6725, 6905, 7005, 7105, 7165, 7245, 7345, 7405, 7465, 7525, 7585, 7645, 7705, 7765, 7825, 7925, 7965, 8085, 8173, 8245, 8305, 8385, 8445, 8605, 8665, 8725, 8785, 8885, 9045, 9117, 9205, 9265, 9325, 9385, 9485, 9597, 9705, 9785, 9865]
r6379 = [67, 127, 219, 267, 339, 495, 579, 663, 847, 987, 1035, 1095, 1143, 1251, 1323, 1467, 1587, 1659, 1731, 1827, 1875, 1959, 2007, 2151, 2319, 2415, 2487, 2571, 2703, 2751, 2799, 2847, 2895, 2943, 3027, 3099, 3147, 3267, 3315, 3377, 3417, 3529, 3577, 3625, 3709, 3865, 3925, 4009, 4105, 4285, 4333, 4429, 4513, 4561, 4633, 4693, 4753, 4801, 4957, 5041, 5089, 5185, 5233, 5293, 5389, 5497, 5533, 5665, 5725, 5821, 5869, 5917, 5965, 6085, 6205, 6241, 6325, 6481, 6577, 6685, 6757, 6829, 6877, 6937, 6765, 6825, 6885, 6933, 7077, 7125, 7197, 7257, 7317, 7437, 7485, 7545, 7605, 7665, 7725, 7773, 7857, 7917, 7977, 8037, 8085, 8205, 8277, 8337, 8397, 8493, 8541, 8625, 8733, 8841, 8997, 9057, 9177, 9261, 9385, 9465, 9525, 9585, 9645, 9693, 9789, 9861]
r6378 = [15, 159, 207, 315, 363, 435, 507, 819, 867, 915, 951, 1191, 1287, 1323, 1443, 1515, 1563, 1611, 1659, 1707, 1767, 1827, 2067, 2115, 2163, 2247, 2415, 2463, 2535, 2775, 2835, 2883, 3159, 3327, 3797, 3901, 4117, 4477, 4549, 4597, 4645, 4693, 4741, 4813, 4861, 4957, 5125, 5185, 5233, 5281, 5329, 5545, 5989, 6217, 6265, 6589, 6993, 7113, 7185, 7245, 7305, 7413, 7545, 7593, 7761, 7845, 7929, 7989, 8157, 8241, 8421, 8481, 8601, 8649, 8697, 8769, 8829, 8889, 8937, 8997, 9249, 9297, 9369, 9453, 9729, 9765, 9849]
r6377 = [27, 87, 219, 267, 327, 387, 471, 651, 735, 867, 1071, 1155, 1215, 1419, 1551, 1599, 1671, 1743, 1827, 1887, 1971, 2067, 2127, 2223, 2463, 2511, 2871, 2931, 3027, 3315, 3377, 3409, 3973, 4021, 4069, 4117, 4261, 4309, 4345, 4537, 4585, 4873, 4921, 4981, 5041, 5137, 5221, 5401, 5593, 5893, 6001, 6265, 6385, 6433, 6565, 6709, 6769, 6817, 6865, 6745, 6805, 7045, 7257, 7305, 7545, 7625, 7685, 7745, 7797, 7941, 8049, 8109, 8193, 8313, 8601, 8661, 8721, 8781, 8865, 8925, 8985, 9037, 9165, 9297, 9393, 9501, 9573, 9645, 9705, 9777, 9885]
r6376 = [99, 171, 519, 615, 867, 903, 1179, 1351, 1483, 1615, 1735, 1863, 1911, 2187, 2283, 2331, 2379, 2571, 2871, 2919, 2967, 3067, 3127, 3175, 3409, 3625, 3697, 3721, 3865, 4297, 4441, 4789, 4837, 4945, 5089, 5125, 5221, 5449, 5629, 5677, 5749, 5773, 5989, 6061, 6109, 6157, 6205, 6853, 6861, 7125, 7173, 7497, 7581, 7785, 7917, 8289, 8361, 8433, 8469, 8601, 8649, 8697, 8805, 9009, 9069, 9129, 9177, 9237, 9333, 9633, 9705]
r6375 = [27, 87, 147, 195, 267, 291, 459, 771, 987, 1035, 1383, 1647, 1671, 1839, 1995, 2031, 2127, 2283, 2343, 2367, 2427, 2571, 2859, 3135, 3159, 3291, 3517, 3901, 3961, 4117, 4261, 4309, 4597, 4669, 4825, 4861, 5221, 5425, 5485, 5713, 5821, 5845, 6313, 6589, 6637, 6817, 6825, 7017, 7221, 7305, 7365, 7725, 7845, 8061, 8097, 8193, 8241, 8301, 8481, 8553, 8661, 8709, 8757, 8817, 8877, 8925, 9045, 9117, 9273, 9309, 9621, 9729, 9873, 9897]
r6374 = [123, 279, 315, 675, 771, 939, 1011, 1371, 2187, 2487, 2535, 2571, 2739, 2847, 2895, 3003, 3279, 3417, 3457, 3589, 3637, 3685, 3793, 4033, 4153, 4453, 4501, 4741, 4933, 5005, 5089, 5353, 5425, 5701, 6697, 6733, 6889, 6725, 6897, 6993, 7065, 7497, 7653, 7857, 7893, 8205, 8241, 8361, 8433, 8505, 8565, 8769, 9165, 9297, 9393, 9537, 9585, 9633, 9681]
r6373 = [51, 243, 315, 507, 1059, 1239, 1503, 1683, 2199, 2499, 2799, 3111, 3315, 3397, 4189, 4465, 4669, 5509, 5737, 6853, 6889, 6925, 6861, 6913, 7293, 7557, 7689, 7785, 8241, 8301, 8373, 8577, 8625, 8673, 9105, 9381, 9453, 9561, 9609, 9705, 9777]
r6372 = [99, 1011, 1695, 1875, 1983, 2091, 2271, 2295, 2547, 2595, 2667, 3553, 4045, 4225, 4441, 4465, 5161, 5377, 5737, 5833, 6169, 6781, 6789, 7209, 7629, 7941, 8169, 8457, 8517, 8553, 9285]
r6371 = [651, 1107, 2247, 2487, 2799, 2847, 2907, 3159, 4417, 5005, 5029, 5797, 6385, 7401, 7533, 7557, 8025, 8049, 8349, 9549, 9597, 9897]
r6370 = [423, 675, 1743, 2079, 3027, 3243, 3757, 3853, 5077, 5101, 5785, 6241, 7221, 7797, 7881, 8013, 8133, 8325, 8445, 8541, 9093, 9381]
r6369 = [159, 327, 351, 2715, 3231, 3327, 3369, 4321, 5305, 5461, 5581, 5701, 5773, 6937, 6945, 8385, 8493, 9153]
r6368 = [279, 1467, 4093, 8157, 8469, 9321]
r6367 = [15, 207, 243, 3697, 5941]
r6366 = [111, 3099, 4501, 5029, 5341, 7425, 7809]
r6365 = [1143, 5473, 6841, 6849, 9129]
r6364 = [63, 219, 2631]
r6363 = [183, 8889]
r6362 = [111]
r6360 = [8265, 8505]

levels = [6416, 6415, 6414, 6413, 6412, 6411, 6410, 6409, 6408, 6407, 6406, 6405, 6404, 6403,
          6402, 6401, 6400, 6399, 6398, 6397, 6396, 6395, 6394, 6393, 6392, 6391, 6390, 6389,
          6388, 6387, 6386, 6385, 6384, 6383, 6382, 6381, 6380, 6379, 6378, 6377, 6376, 6375,
          6374, 6373, 6372, 6371, 6370, 6369, 6368, 6367, 6366, 6365, 6364, 6363, 6362, 6360]
rows = [r6416, r6415, r6414, r6413, r6412, r6411, r6410, r6409, r6408, r6407, r6406, r6405, r6404, r6403,
        r6402, r6401, r6400, r6399, r6398, r6397, r6396, r6395, r6394, r6393, r6392, r6391, r6390, r6389,
        r6388, r6387, r6386, r6385, r6384, r6383, r6382, r6381, r6380, r6379, r6378, r6377, r6376, r6375,
        r6374, r6373, r6372, r6371, r6370, r6369, r6368, r6367, r6366, r6365, r6364, r6363, r6362, r6360]

df = pd.DataFrame(
    [(s, lev) for lev, row in zip(levels, rows) for s in row],
    columns=["sample", "adc"],
)

fig, ax = plt.subplots(figsize=(10, 10), dpi=100)
sns.scatterplot(
    data=df, x="sample", y="adc", ax=ax, marker=".", s=40, color="black",
    edgecolor="black", linewidth=1, zorder=2,
    label="Samples\n" + r"$\mu$ = 6390.32, $\sigma$ = 7.98",
)
ax.set_xlim(-481, 10397)
ax.set_ylim(6357.2, 6418.8)
ax.grid(True)
ax.set_title("Run 668, channel012, Pedestal")
ax.set_xlabel("Sample #")
ax.set_ylabel("ADC Counts")
ax.legend(loc="upper right")
fig.subplots_adjust(left=0.081, right=0.985, bottom=0.058, top=0.965)
plt.savefig("out.png")
